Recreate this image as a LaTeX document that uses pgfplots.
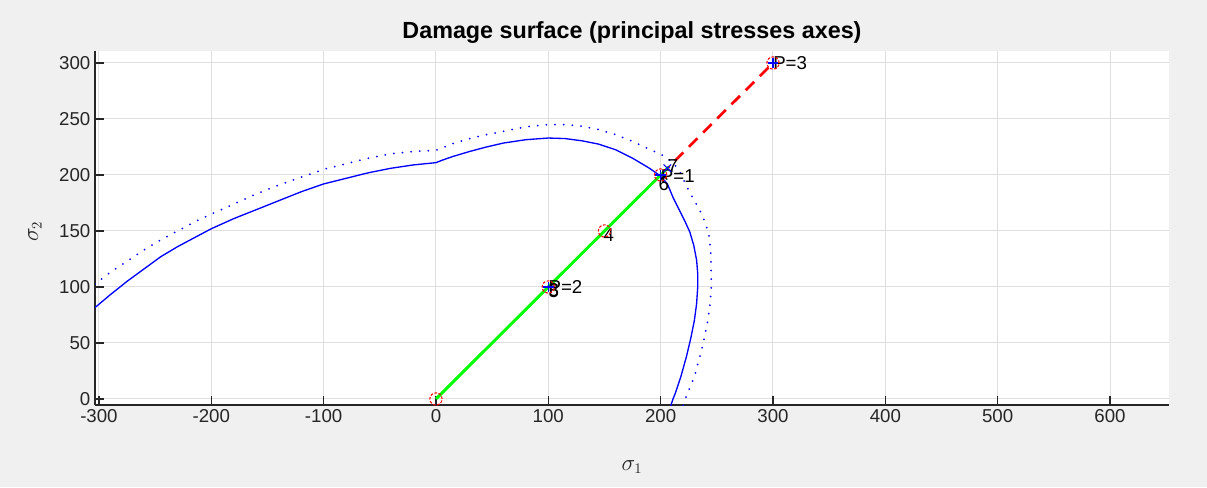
\documentclass[border=0pt]{standalone}
\usepackage{pgfplots}
\pgfplotsset{compat=1.18}
\usepackage{fontspec}
\setmainfont{Liberation Sans}
\definecolor{figbg}{RGB}{240,240,240}
\definecolor{axgray}{RGB}{38,38,38}
\definecolor{gridgray}{RGB}{223,223,223}
\definecolor{mblue}{RGB}{0,0,255}
\definecolor{mgreen}{RGB}{0,255,0}
\definecolor{mred}{RGB}{255,0,0}
\begin{document}
\begin{tikzpicture}
\fill[figbg] (0pt,0pt) rectangle (905.25pt,365.25pt);
\begin{axis}[at={(71.25pt,61.5pt)}, anchor=south west, scale only axis,
  width=805.5pt, height=265.5pt,
  xmin=-303.5, xmax=652.5, ymin=-5.4, ymax=310.7,
  axis background/.style={fill=white},
  axis x line*=bottom, axis y line*=left,
  axis line style={axgray, line width=0.9pt},
  xtick={-300,-200,...,600}, ytick={0,50,...,300},
  tick align=inside, major tick length=7pt,
  tick style={axgray, line width=0.9pt},
  grid=major, major grid style={gridgray, line width=0.75pt},
  ticklabel style={font=\fontsize{14}{16}\selectfont, text=axgray},
  /pgf/number format/assume math mode=true,
  every axis title shift=0pt,
  title={Damage surface (principal stresses axes)},
  title style={font=\fontsize{17.5}{19}\bfseries\selectfont, at={(axis description cs:0.5,1.051)}, anchor=center, text=black},
  xlabel={$\sigma_1$}, ylabel={$\sigma_2$},
  xlabel style={font=\fontsize{16}{18}\selectfont, text=axgray, at={(axis description cs:0.5,-0.175)}, anchor=center},
  ylabel style={font=\fontsize{16}{18}\selectfont, text=axgray, at={(axis description cs:-0.056,0.49)}, anchor=center, rotate=0},
  clip=true,
]
% damage surface (solid)
\addplot[mblue, line width=1pt, mark=none, line join=round] coordinates {
(-310,77) (-303,82) (-290,93) (-275,105) (-260,116) (-245,127) (-230,136) (-215,144) (-200,152) (-180,161) (-160,169) (-140,177) (-120,185) (-100,192) (-80,197) (-60,202) (-40,206) (-20,209) (0,211) (5,213) (15,216.5) (30,221) (45,225) (60,228.5) (80,231.5) (100,233) (115,232.5) (130,230.5) (145,227.5) (160,222.5) (175,215) (190,206) (200,199) (206,192) (211,180) (216,170) (221,160) (226,149) (229.5,137) (232,124) (233,112) (233,100) (232,85) (230,70) (227,55) (223,38) (218,20) (213,5) (211,0) (209,-6)
};
% dotted surface
\addplot[mblue, line width=1.5pt, line cap=round, dash pattern=on 0pt off 6.5pt, mark=none] coordinates {
(-310,98) (-303,103) (-290,113) (-275,123) (-260,133) (-245,142) (-230,150) (-215,158) (-200,165) (-180,174) (-160,183) (-140,191) (-120,198) (-100,205) (-80,210) (-60,215) (-40,219) (-20,221) (0,222) (5,224) (15,228) (30,232.5) (45,236) (60,239) (80,243) (100,245) (115,245) (130,243.5) (145,240.5) (160,236) (175,230) (190,223) (203,217) (212,210) (218,201) (223,190) (229,179) (235,168) (239.5,158) (243,146) (244.5,132) (245,118) (245,100) (244,85) (242,70) (239,55) (235,38) (230,20) (224,5) (222,0) (220,-6)
};
% red dashed path
\addplot[mred, line width=2pt, dash pattern=on 9pt off 6pt, mark=none] coordinates {(200,200) (300,300)};
% green path
\addplot[mgreen, line width=2.2pt, mark=none] coordinates {(0,0) (207,207)};
% red circles
\addplot[only marks, mark=o, mark size=4.6pt, mred, mark options={line width=0.8pt, dash pattern=on 2pt off 1.2pt}] coordinates {(0,0) (100,100) (150,150) (200,200) (300,300)};
% blue markers
\addplot[only marks, mark=+, mark size=4pt, mblue, mark options={line width=0.8pt}] coordinates {(100,100) (200,200) (300,300)};
\addplot[only marks, mark=x, mark size=4pt, mblue, mark options={line width=0.8pt}] coordinates {(206,206)};
% labels
\node[anchor=west, inner sep=0pt, font=\fontsize{14}{16}\selectfont] at (axis cs:300,300) {P=3};
\node[anchor=west, inner sep=0pt, font=\fontsize{14}{16}\selectfont] at (axis cs:200,199) {P=1};
\node[anchor=west, inner sep=0pt, font=\fontsize{14}{16}\selectfont] at (axis cs:206,208) {7};
\node[anchor=west, inner sep=0pt, font=\fontsize{14}{16}\selectfont] at (axis cs:198,192) {6};
\node[anchor=west, inner sep=0pt, font=\fontsize{14}{16}\selectfont] at (axis cs:100,100) {P=2};
\node[anchor=west, inner sep=0pt, font=\fontsize{14}{16}\selectfont] at (axis cs:100,97) {3};
\node[anchor=west, inner sep=0pt, font=\fontsize{14}{16}\selectfont] at (axis cs:100,96) {5};
\node[anchor=west, inner sep=0pt, font=\fontsize{14}{16}\selectfont] at (axis cs:149,146) {4};
\end{axis}
\end{tikzpicture}
\end{document}
